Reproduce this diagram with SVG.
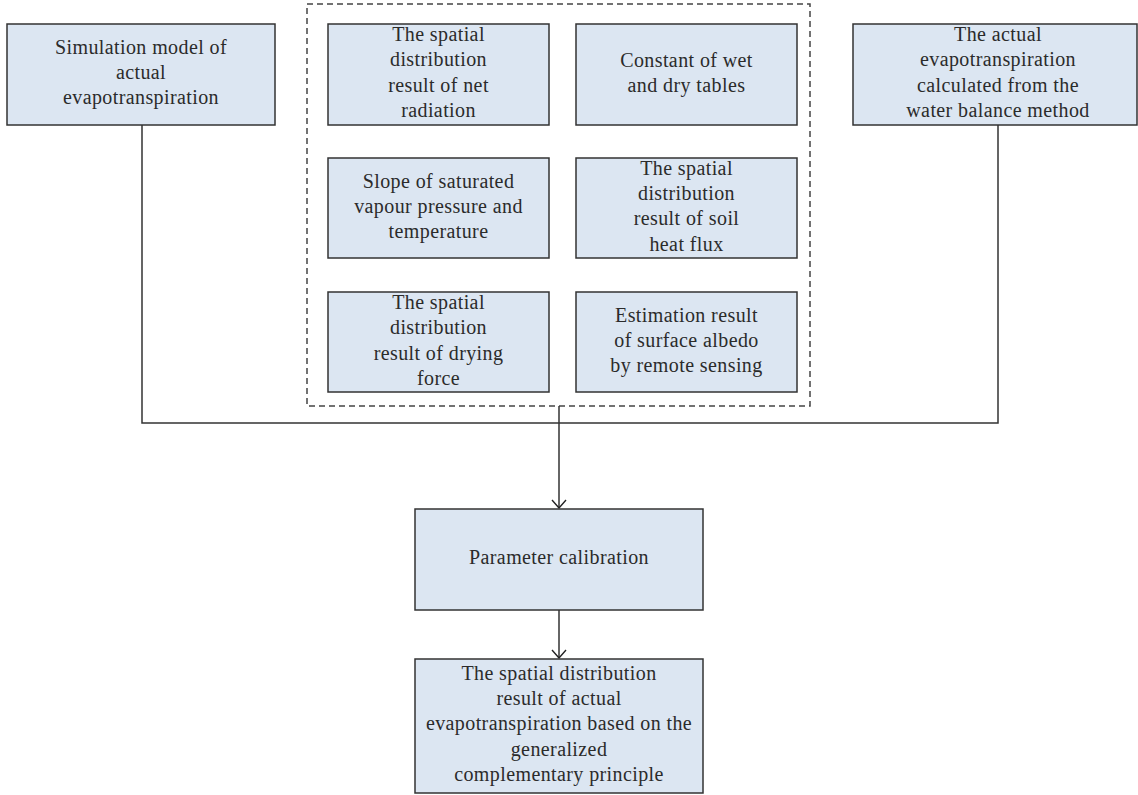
<svg xmlns="http://www.w3.org/2000/svg" width="1138" height="795" viewBox="0 0 1138 795">
<style>
.box{fill:#dce6f2;stroke:#333;stroke-width:1.5}
.t{font-family:"Liberation Serif",serif;font-size:20px;fill:#2b2b2b;text-anchor:middle;letter-spacing:0.4px}
.ln{fill:none;stroke:#333;stroke-width:1.5}
</style>
<defs>
<marker id="arr" markerWidth="10" markerHeight="16" refX="9" refY="8" orient="auto" markerUnits="userSpaceOnUse" viewBox="0 0 10 16">
<path d="M1,1 L9,8 L1,15" fill="none" stroke="#222" stroke-width="1.4"/>
</marker>
</defs>
<rect width="1138" height="795" fill="#fff"/>
<g id="group-inputs">
<rect x="307" y="4" width="503" height="402" fill="none" stroke="#444" stroke-width="1.5" stroke-dasharray="6,4"/>
</g>
<g id="connectors">
<polyline class="ln" points="142,125 142,423 998,423 998,125"/>
<line class="ln" x1="559" y1="406" x2="559" y2="508" marker-end="url(#arr)"/>
<line class="ln" x1="559" y1="610" x2="559" y2="658" marker-end="url(#arr)"/>
</g>
<g id="n-sim">
<rect class="box" x="7" y="24" width="268" height="101"/>
<text class="t" x="141" y="54">Simulation model of</text>
<text class="t" x="141" y="79">actual</text>
<text class="t" x="141" y="104">evapotranspiration</text>
</g>
<g id="n-netrad">
<rect class="box" x="328" y="24" width="221" height="101"/>
<text class="t" x="438.5" y="41">The spatial</text>
<text class="t" x="438.5" y="66">distribution</text>
<text class="t" x="438.5" y="92">result of net</text>
<text class="t" x="438.5" y="117">radiation</text>
</g>
<g id="n-const">
<rect class="box" x="576" y="24" width="221" height="101"/>
<text class="t" x="686.5" y="67">Constant of wet</text>
<text class="t" x="686.5" y="92">and dry tables</text>
</g>
<g id="n-slope">
<rect class="box" x="328" y="158" width="221" height="100"/>
<text class="t" x="438.5" y="188">Slope of saturated</text>
<text class="t" x="438.5" y="213">vapour pressure and</text>
<text class="t" x="438.5" y="238">temperature</text>
</g>
<g id="n-soil">
<rect class="box" x="576" y="158" width="221" height="100"/>
<text class="t" x="686.5" y="175">The spatial</text>
<text class="t" x="686.5" y="200">distribution</text>
<text class="t" x="686.5" y="225">result of soil</text>
<text class="t" x="686.5" y="251">heat flux</text>
</g>
<g id="n-dry">
<rect class="box" x="328" y="292" width="221" height="100"/>
<text class="t" x="438.5" y="309">The spatial</text>
<text class="t" x="438.5" y="334">distribution</text>
<text class="t" x="438.5" y="360">result of drying</text>
<text class="t" x="438.5" y="385">force</text>
</g>
<g id="n-albedo">
<rect class="box" x="576" y="292" width="221" height="100"/>
<text class="t" x="686.5" y="322">Estimation result</text>
<text class="t" x="686.5" y="347">of surface albedo</text>
<text class="t" x="686.5" y="372">by remote sensing</text>
</g>
<g id="n-water">
<rect class="box" x="853" y="24" width="284" height="101"/>
<text class="t" x="998" y="41">The actual</text>
<text class="t" x="998" y="66">evapotranspiration</text>
<text class="t" x="998" y="92">calculated from the</text>
<text class="t" x="998" y="117">water balance method</text>
</g>
<g id="n-param">
<rect class="box" x="415" y="509" width="288" height="101"/>
<text class="t" x="559" y="564">Parameter calibration</text>
</g>
<g id="n-result">
<rect class="box" x="415" y="659" width="288" height="134"/>
<text class="t" x="559" y="680">The spatial distribution</text>
<text class="t" x="559" y="705">result of actual</text>
<text class="t" x="559" y="730">evapotranspiration based on the</text>
<text class="t" x="559" y="756">generalized</text>
<text class="t" x="559" y="781">complementary principle</text>
</g>
</svg>
